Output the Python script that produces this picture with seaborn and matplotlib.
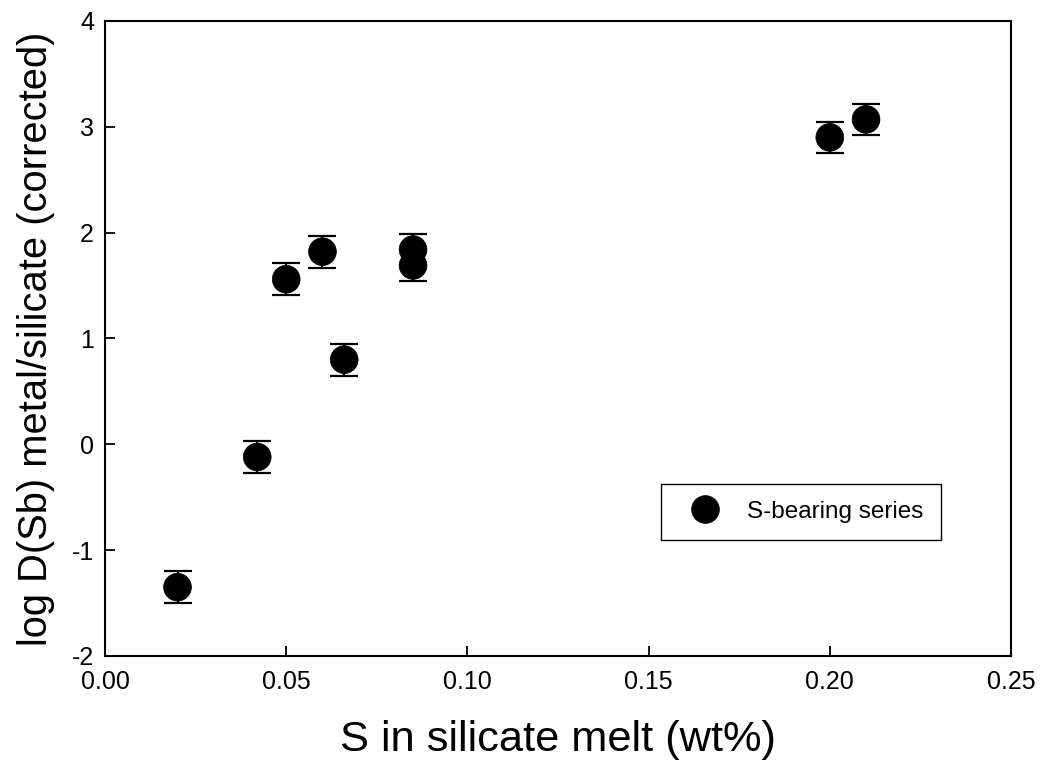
import matplotlib
matplotlib.use("Agg")
import matplotlib.pyplot as plt
import seaborn as sns
import pandas as pd
import numpy as np

# Data
s_wt = [0.020, 0.042, 0.050, 0.060, 0.066, 0.085, 0.085, 0.200, 0.210]
log_d = [-1.35, -0.12, 1.56, 1.82, 0.80, 1.84, 1.69, 2.90, 3.07]
err = [0.15, 0.15, 0.15, 0.15, 0.15, 0.15, 0.15, 0.15, 0.15]
series_name = "S-bearing series"
x_ticks = [0.00, 0.05, 0.10, 0.15, 0.20, 0.25]
y_ticks = [-2, -1, 0, 1, 2, 3, 4]

df = pd.DataFrame({"S": s_wt, "logD": log_d, "err": err,
                   "series": [series_name] * len(s_wt)})

sns.set_theme(style="ticks")
plt.rcParams['font.family'] = ['Liberation Sans', 'DejaVu Sans']
plt.rcParams['text.color'] = 'black'
plt.rcParams['axes.labelcolor'] = 'black'
plt.rcParams['xtick.color'] = 'black'
plt.rcParams['ytick.color'] = 'black'

fig = plt.figure(figsize=(10.43, 7.71), dpi=100)
ax = fig.add_axes([0.1007, 0.1492, 0.8686, 0.8236])

ax.errorbar(df["S"], df["logD"], yerr=df["err"], fmt="none", ecolor="black",
            elinewidth=1.5, capsize=10, capthick=1.6, zorder=2)
sns.scatterplot(data=df, x="S", y="logD", hue="series", palette=["black"],
                s=400, edgecolor="black", linewidth=0.5, ax=ax, zorder=3)

ax.set_xlim(0, 0.25)
ax.set_ylim(-2, 4)
ax.set_xticks(x_ticks)
ax.set_xticklabels([f"{v:.2f}" for v in x_ticks])
ax.set_yticks(y_ticks)
ax.set_yticklabels([str(v) for v in y_ticks])

ax.tick_params(direction="in", length=7, width=1.3, labelsize=18,
               colors="black")
ax.tick_params(axis="x", pad=10)
ax.tick_params(axis="y", pad=8)
for sp in ax.spines.values():
    sp.set_linewidth(1.5)
    sp.set_color("black")

ax.set_xlabel("S in silicate melt (wt%)", fontsize=31.2, labelpad=19)
ax.set_ylabel("log D(Sb) metal/silicate (corrected)", fontsize=28.7, labelpad=12)

leg = ax.legend(loc="center", bbox_to_anchor=(0.768, 0.227), fontsize=17.5,
                frameon=True, fancybox=False, edgecolor="black", framealpha=1,
                borderpad=0.7, handlelength=2.2, handletextpad=0.66,
                markerscale=1.0)
leg.get_frame().set_linewidth(1.0)
leg.set_title(None)

fig.savefig("out.png", dpi=100)
